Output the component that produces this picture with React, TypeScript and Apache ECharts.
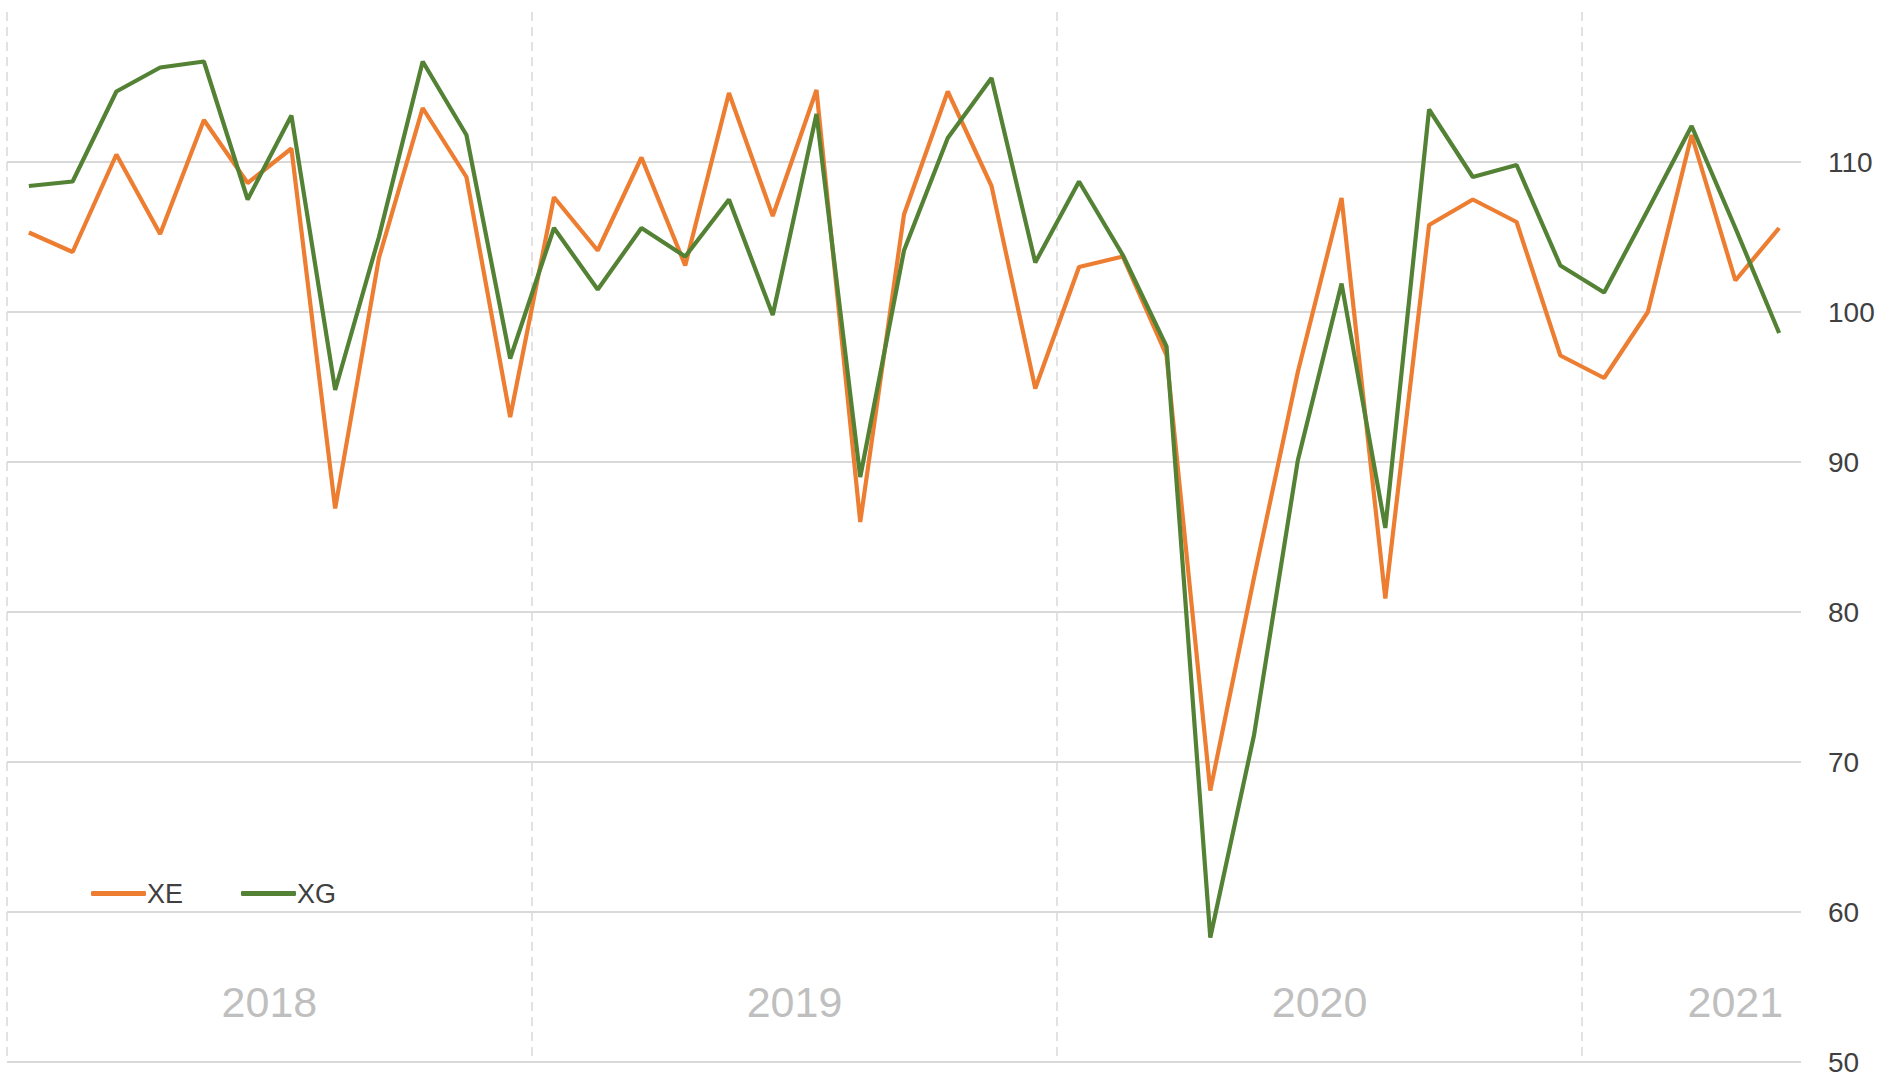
import React, { useEffect, useRef } from "react";
import * as echarts from "echarts";

const years = ["2018", "2019", "2020", "2021"];
const monthsPerYear = [12, 12, 12, 5];

const xe = [
  105.3, 104.0, 110.5, 105.2, 112.8, 108.6, 110.9, 86.9, 103.6, 113.6, 109.0, 93.0,
  107.65, 104.1, 110.3, 103.1, 114.6, 106.4, 114.8, 86.0, 106.5, 114.7, 108.4, 94.9,
  103.0, 103.7, 97.1, 68.1, 82.3, 96.0, 107.6, 80.9, 105.8, 107.5, 106.0, 97.1,
  95.6, 100.0, 111.8, 102.1, 105.6,
];

const xg = [
  108.4, 108.7, 114.7, 116.3, 116.7, 107.5, 113.1, 94.8, 105.0, 116.7, 111.8, 96.9,
  105.6, 101.5, 105.6, 103.7, 107.5, 99.8, 113.2, 89.0, 104.1, 111.6, 115.6, 103.3,
  108.7, 103.8, 97.7, 58.3, 71.8, 90.1, 101.9, 85.6, 113.5, 109.0, 109.8, 103.1,
  101.3, 106.8, 112.4, 105.6, 98.6,
];

const yTicks = { min: 50, max: 120, interval: 10 };

// categories: "YYYY-MM"
const categories: string[] = [];
const yearStart: number[] = [];
years.forEach((y, yi) => {
  yearStart.push(categories.length);
  for (let m = 1; m <= monthsPerYear[yi]; m++) {
    categories.push(`${y}-${String(m).padStart(2, "0")}`);
  }
});

export default function App() {
  const ref = useRef<HTMLDivElement>(null);
  useEffect(() => {
    if (!ref.current) return;
    const chart = echarts.init(ref.current, null, { renderer: "svg" });

    const labelIndex: Record<number, { year: string; shift: boolean }> = {};
    years.forEach((y, yi) => {
      const n = monthsPerYear[yi];
      if (n === 12) labelIndex[yearStart[yi] + 6] = { year: y, shift: true };
      else labelIndex[yearStart[yi] + Math.floor(n / 2) + 1] = { year: y, shift: false };
    });
    const boundaries = new Set(yearStart);

    const grey = "#d9d9d9";
    const option: any = {
      animation: false,
      backgroundColor: "#ffffff",
      textStyle: { fontFamily: "Liberation Sans, Arial, sans-serif" },
      grid: { left: 7, right: 79, top: 12, bottom: 15, containLabel: false },
      legend: {
        left: 86,
        top: 875,
        icon: "roundRect",
        itemWidth: 55,
        itemHeight: 5,
        itemGap: 58,
        textStyle: {
          fontFamily: "Liberation Sans Narrow, Liberation Sans, Arial, sans-serif",
          fontSize: 27,
          color: "#404040",
          padding: [0, 0, 0, -4],
        },
        data: ["XE", "XG"],
      },
      xAxis: {
        type: "category",
        data: categories,
        boundaryGap: true,
        axisLine: { show: false },
        axisTick: { show: false },
        axisLabel: {
          interval: 0,
          margin: -60,
          verticalAlign: "middle",
          formatter: (_v: string, idx: number) => {
            const l = labelIndex[idx];
            if (!l) return "";
            return l.shift ? `{s|${l.year}}` : `{n|${l.year}}`;
          },
          rich: {
            s: {
              fontSize: 43,
              color: "#bfbfbf",
              fontFamily: "Liberation Sans, Arial, sans-serif",
              padding: [0, 44, 0, 0],
            },
            n: {
              fontSize: 43,
              color: "#bfbfbf",
              fontFamily: "Liberation Sans, Arial, sans-serif",
            },
          },
        },
        splitLine: {
          show: true,
          interval: (idx: number) => boundaries.has(idx),
          lineStyle: {
            color: [grey, grey, grey, grey, "rgba(0,0,0,0)"],
            type: [9, 6],
            width: 1.5,
          },
        },
      },
      yAxis: {
        type: "value",
        position: "right",
        min: yTicks.min,
        max: yTicks.max,
        interval: yTicks.interval,
        axisLine: { show: false },
        axisTick: { show: false },
        axisLabel: {
          showMaxLabel: false,
          margin: 27,
          fontSize: 28,
          color: "#404040",
          fontFamily: "Liberation Sans, Arial, sans-serif",
        },
        splitLine: {
          show: true,
          lineStyle: {
            color: [grey, grey, grey, grey, grey, grey, grey, "rgba(0,0,0,0)"],
            width: 2,
          },
        },
      },
      series: [
        {
          name: "XE",
          type: "line",
          data: xe,
          showSymbol: false,
          symbol: "none",
          lineStyle: { color: "#ED7D31", width: 4.2 },
          itemStyle: { color: "#ED7D31" },
        },
        {
          name: "XG",
          type: "line",
          data: xg,
          showSymbol: false,
          symbol: "none",
          lineStyle: { color: "#548235", width: 4.2 },
          itemStyle: { color: "#548235" },
        },
      ],
    };
    chart.setOption(option);
    return () => chart.dispose();
  }, []);

  return (
    <div
      ref={ref}
      style={{ position: "fixed", left: 0, top: 0, width: 1880, height: 1077, background: "#fff" }}
    />
  );
}
